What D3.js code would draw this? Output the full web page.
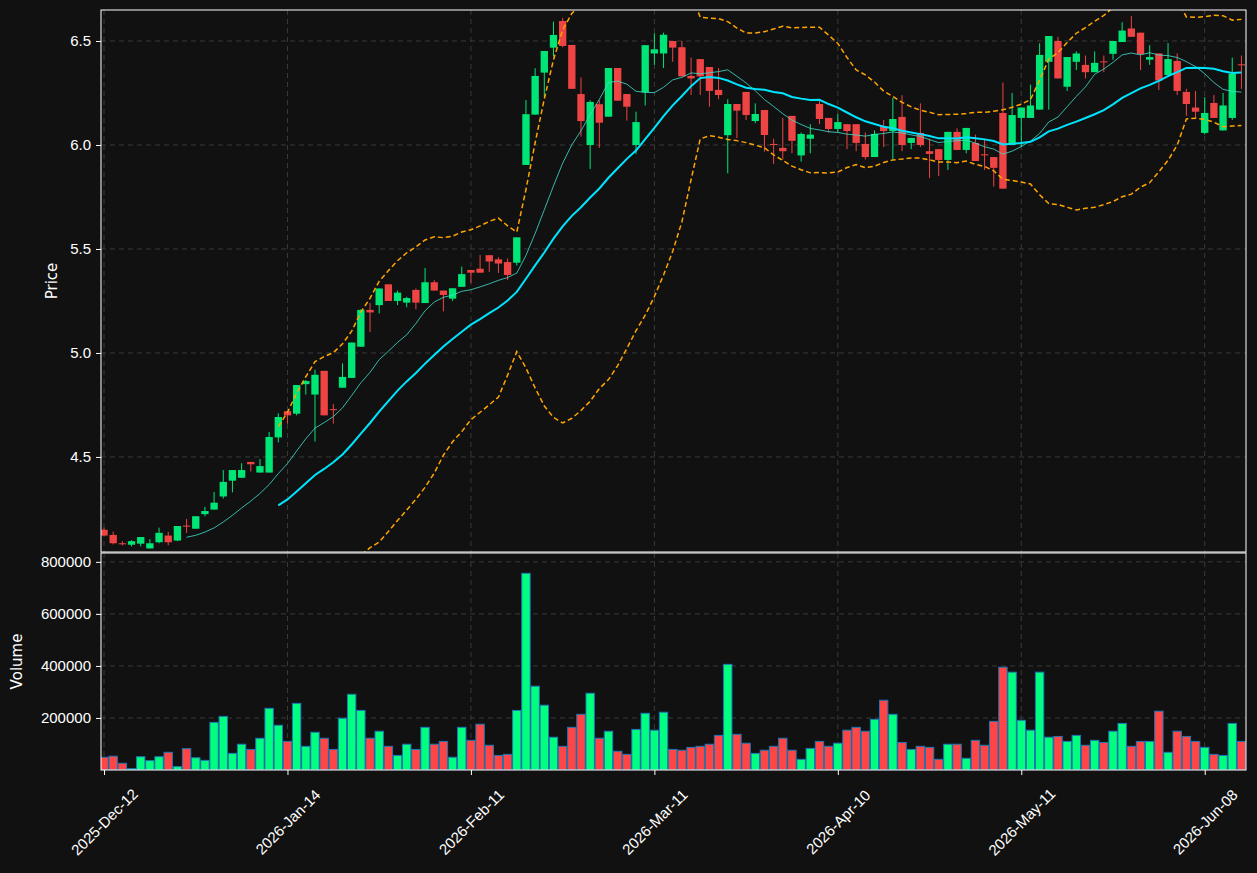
<!DOCTYPE html>
<html>
<head>
<meta charset="utf-8">
<script src="https://cdn.jsdelivr.net/npm/d3@7"></script>
<style>
  body { margin: 0; background: #111111; }
  svg { display: block; font-family: "DejaVu Sans", sans-serif; }
</style>
</head>
<body>
<div id="chart"></div>
<script>
// OHLC, one entry per trading session
const opens = [4.15,4.125,4.085,4.078,4.083,4.06,4.09,4.122,4.098,4.17,4.155,4.225,4.247,4.31,4.386,4.40,4.476,4.425,4.425,4.594,
  4.72,4.708,4.85,4.80,4.914,4.73,4.833,4.88,5.03,5.207,5.23,5.33,5.25,5.242,5.303,5.24,5.34,5.30,5.261,5.318,
  5.399,5.405,5.47,5.45,5.437,5.434,5.904,6.146,6.348,6.468,6.596,6.481,6.245,6.00,6.196,6.136,6.37,6.245,6.00,6.253,
  6.44,6.44,6.50,6.47,6.332,6.413,6.375,6.265,6.047,6.197,6.255,6.115,6.168,6.005,5.986,6.14,5.95,6.03,6.197,6.13,
  6.077,6.10,6.10,6.005,5.942,6.09,6.067,6.135,6.01,6.058,5.97,5.98,5.928,6.063,5.976,6.01,5.955,5.942,6.154,6.00,
  6.13,6.13,6.17,6.40,6.50,6.28,6.40,6.385,6.35,6.402,6.438,6.495,6.56,6.54,6.41,6.44,6.336,6.404,6.255,6.18,
  6.058,6.202,6.07,6.13,6.388];
const highs = [4.16,4.141,4.095,4.10,4.115,4.105,4.16,4.14,4.168,4.202,4.215,4.26,4.332,4.437,4.437,4.47,4.476,4.49,4.62,4.71,
  4.72,4.846,4.87,4.92,4.914,4.755,4.95,5.05,5.21,5.24,5.31,5.33,5.30,5.27,5.31,5.409,5.35,5.30,5.311,5.415,
  5.40,5.471,5.47,5.46,5.455,5.556,6.216,6.369,6.452,6.593,6.61,6.481,6.325,6.215,6.215,6.37,6.37,6.245,6.16,6.48,
  6.537,6.54,6.50,6.50,6.42,6.413,6.375,6.37,6.22,6.197,6.255,6.20,6.168,6.03,6.13,6.14,6.06,6.10,6.22,6.13,
  6.15,6.10,6.10,6.06,6.07,6.12,6.226,6.239,6.034,6.20,6.03,5.98,6.063,6.08,6.082,6.05,6.03,5.942,6.30,6.25,
  6.18,6.29,6.489,6.524,6.52,6.423,6.45,6.43,6.45,6.43,6.50,6.59,6.62,6.54,6.48,6.44,6.49,6.44,6.27,6.26,
  6.23,6.24,6.25,6.42,6.43];
const lows = [4.12,4.08,4.075,4.07,4.07,4.06,4.085,4.075,4.095,4.135,4.155,4.215,4.247,4.30,4.33,4.40,4.43,4.425,4.425,4.57,
  4.66,4.70,4.80,4.574,4.70,4.66,4.833,4.88,5.03,5.10,5.19,5.25,5.23,5.22,5.21,5.24,5.30,5.20,5.25,5.318,
  5.337,5.386,5.39,5.385,5.35,5.42,5.904,6.146,6.232,6.425,6.47,6.27,6.04,5.885,5.986,6.136,6.213,6.117,5.957,6.19,
  6.385,6.37,6.40,6.33,6.24,6.24,6.184,6.22,5.864,6.032,6.12,6.105,5.968,5.909,5.93,5.96,5.92,5.96,6.10,6.06,
  6.06,5.98,5.97,5.93,5.942,5.99,5.93,5.97,5.98,5.99,5.841,5.85,5.88,5.976,5.96,5.923,5.88,5.80,5.79,6.00,
  5.99,6.13,6.17,6.17,6.32,6.26,6.36,6.32,6.35,6.35,6.41,6.495,6.52,6.36,6.385,6.264,6.336,6.24,6.14,6.13,
  6.05,6.13,6.07,6.12,6.27];
const closes = [4.122,4.085,4.08,4.095,4.115,4.085,4.135,4.09,4.168,4.165,4.215,4.24,4.28,4.38,4.437,4.437,4.465,4.456,4.596,4.692,
  4.70,4.846,4.865,4.895,4.70,4.725,4.885,5.05,5.207,5.195,5.31,5.25,5.29,5.264,5.242,5.34,5.30,5.279,5.311,5.379,
  5.386,5.386,5.44,5.43,5.375,5.556,6.148,6.332,6.452,6.529,6.476,6.27,6.115,6.207,6.107,6.37,6.213,6.184,6.11,6.48,
  6.46,6.53,6.468,6.33,6.32,6.33,6.26,6.24,6.197,6.165,6.144,6.149,6.048,6.00,5.97,6.02,6.053,6.05,6.125,6.077,
  6.11,6.067,6.01,5.942,6.053,6.067,6.125,6.00,6.034,6.00,5.957,5.928,6.063,5.976,6.082,5.923,5.95,5.89,5.79,6.144,
  6.18,6.19,6.433,6.524,6.32,6.423,6.44,6.35,6.395,6.398,6.50,6.55,6.52,6.437,6.423,6.31,6.413,6.26,6.197,6.16,
  6.154,6.13,6.19,6.343,6.385];
const volumes = [49e3,53e3,26e3,5e3,51e3,36e3,51e3,68e3,13e3,82e3,47e3,37e3,183e3,206e3,64e3,99e3,79e3,122e3,237e3,172e3,
  110e3,256e3,91e3,145e3,122e3,79e3,199e3,291e3,229e3,122e3,149e3,91e3,56e3,99e3,79e3,164e3,99e3,110e3,49e3,164e3,
  114e3,176e3,95e3,56e3,60e3,229e3,756e3,322e3,249e3,126e3,91e3,164e3,214e3,295e3,122e3,149e3,72e3,60e3,156e3,218e3,
  153e3,222e3,79e3,76e3,87e3,91e3,99e3,133e3,406e3,137e3,103e3,64e3,76e3,91e3,122e3,76e3,41e3,83e3,110e3,91e3,
  103e3,153e3,164e3,149e3,195e3,268e3,214e3,106e3,79e3,91e3,87e3,41e3,99e3,99e3,45e3,114e3,95e3,187e3,395e3,376e3,
  191e3,153e3,376e3,126e3,129e3,110e3,133e3,95e3,114e3,106e3,149e3,179e3,91e3,110e3,110e3,226e3,68e3,149e3,129e3,110e3,
  87e3,60e3,56e3,179e3,110e3];
// tick labels every 20 sessions
const tickIdx = [0, 20, 40, 60, 80, 100, 120];
const tickLabels = ['2025-Dec-12','2026-Jan-14','2026-Feb-11','2026-Mar-11','2026-Apr-10','2026-May-11','2026-Jun-08'];
const priceTicks = [4.5, 5.0, 5.5, 6.0, 6.5];
const volTicks = [200000, 400000, 600000, 800000];

const W = 1257, H = 873;
const L = 101, R = 1246, pTop = 10, pBot = 552, vTop = 553, vBot = 770;
const upC = '#00e676', downC = '#ef4444', volUp = '#00ff80', volDown = '#ff4545';

const n = closes.length;
const x = d3.scaleLinear().domain([-0.33, n - 0.5]).range([L, R]);
const yP = d3.scaleLinear().domain([4.043, 6.649]).range([pBot, pTop]);
const yV = d3.scaleLinear().domain([0, 834000]).range([vBot, vTop]);
const bw = 9.17 * 0.8;

// moving averages and bollinger bands derived from the closes
function rolling(k, f) {
  return closes.map((_, i) => i < k - 1 ? null : f(closes.slice(i - k + 1, i + 1)));
}
const ma10 = rolling(10, a => d3.mean(a));
const ma20 = rolling(20, a => d3.mean(a));
const sd20 = rolling(20, a => d3.deviation(a));
const bbUp = ma20.map((m, i) => m == null ? null : m + 2 * sd20[i]);
const bbLo = ma20.map((m, i) => m == null ? null : m - 2 * sd20[i]);

const svg = d3.select('#chart').append('svg').attr('width', W).attr('height', H);
svg.append('rect').attr('width', W).attr('height', H).attr('fill', '#111111');
const defs = svg.append('defs');
defs.append('clipPath').attr('id', 'cp').append('rect').attr('x', L).attr('y', pTop).attr('width', R - L).attr('height', pBot - pTop);
defs.append('clipPath').attr('id', 'cv').append('rect').attr('x', L).attr('y', vTop).attr('width', R - L).attr('height', vBot - vTop);

function grid(yScale, ticks, top, bot) {
  const g = svg.append('g').attr('stroke', '#3a3a3a').attr('stroke-dasharray', '5,4').attr('stroke-width', 1);
  g.selectAll('.h').data(ticks).join('line').attr('x1', L).attr('x2', R)
    .attr('y1', d => yScale(d)).attr('y2', d => yScale(d));
  g.selectAll('.v').data(tickIdx).join('line').attr('y1', top).attr('y2', bot)
    .attr('x1', d => x(d)).attr('x2', d => x(d));
}
grid(yP, priceTicks, pTop, pBot);
grid(yV, volTicks, vTop, vBot);

// price panel
const pg = svg.append('g').attr('clip-path', 'url(#cp)');
const data = closes.map((c, i) => ({ i, o: opens[i], h: highs[i], l: lows[i], c }));
pg.selectAll('.wick').data(data).join('line')
  .attr('x1', d => x(d.i)).attr('x2', d => x(d.i))
  .attr('y1', d => yP(d.h)).attr('y2', d => yP(d.l))
  .attr('stroke', d => d.c >= d.o ? upC : downC).attr('stroke-width', 1);
pg.selectAll('.body').data(data).join('rect')
  .attr('x', d => x(d.i) - bw / 2).attr('width', bw)
  .attr('y', d => yP(Math.max(d.o, d.c)))
  .attr('height', d => Math.max(1, Math.abs(yP(d.o) - yP(d.c))))
  .attr('fill', d => d.c >= d.o ? upC : downC);

const line = d3.line().defined(d => d != null).x((d, i) => x(i)).y(d => yP(d));
pg.append('path').attr('d', line(ma10)).attr('fill', 'none').attr('stroke', '#40e0d0').attr('stroke-opacity', 0.8).attr('stroke-width', 1);
pg.append('path').attr('d', line(ma20)).attr('fill', 'none').attr('stroke', '#00e5ff').attr('stroke-width', 2);
[bbUp, bbLo].forEach(b => pg.append('path').attr('d', line(b)).attr('fill', 'none')
  .attr('stroke', '#ffa500').attr('stroke-width', 1.5).attr('stroke-dasharray', '5,3'));

// volume panel
const vg = svg.append('g').attr('clip-path', 'url(#cv)');
vg.selectAll('rect').data(data).join('rect')
  .attr('x', d => x(d.i) - 4.2).attr('width', 8.4)
  .attr('y', d => yV(volumes[d.i])).attr('height', d => yV(0) - yV(volumes[d.i]))
  .attr('fill', d => d.c >= d.o ? volUp : volDown)
  .attr('stroke', '#1f77b4').attr('stroke-width', 1);

// axes
function styleAxis(g) {
  g.selectAll('.domain').remove();
  g.selectAll('line').attr('stroke', '#ffffff');
  g.selectAll('text').attr('fill', '#ffffff').style('font-size', '15px');
}
svg.append('g').attr('transform', `translate(${L},0)`)
  .call(d3.axisLeft(yP).tickValues(priceTicks).tickFormat(d3.format('.1f')).tickSize(5).tickPadding(5)).call(styleAxis);
svg.append('g').attr('transform', `translate(${L},0)`)
  .call(d3.axisLeft(yV).tickValues(volTicks).tickFormat(d3.format('d')).tickSize(5).tickPadding(5)).call(styleAxis);
const xa = svg.append('g').attr('transform', `translate(0,${vBot})`)
  .call(d3.axisBottom(x).tickValues(tickIdx).tickFormat((d, i) => tickLabels[i]).tickSize(5)).call(styleAxis);
xa.selectAll('text').attr('text-anchor', 'middle').attr('y', 0).attr('dy', '0.35em')
  .attr('transform', 'translate(0,52) rotate(-45)');

svg.append('rect').attr('x', L).attr('y', pTop).attr('width', R - L).attr('height', pBot - pTop)
  .attr('fill', 'none').attr('stroke', '#ffffff');
svg.append('rect').attr('x', L).attr('y', vTop).attr('width', R - L).attr('height', vBot - vTop)
  .attr('fill', 'none').attr('stroke', '#ffffff');

svg.append('text').attr('transform', `translate(57,${(pTop + pBot) / 2}) rotate(-90)`)
  .attr('text-anchor', 'middle').attr('fill', '#ffffff').style('font-size', '15px').text('Price');
svg.append('text').attr('transform', `translate(22,${(vTop + vBot) / 2}) rotate(-90)`)
  .attr('text-anchor', 'middle').attr('fill', '#ffffff').style('font-size', '15px').text('Volume');
</script>
</body>
</html>
